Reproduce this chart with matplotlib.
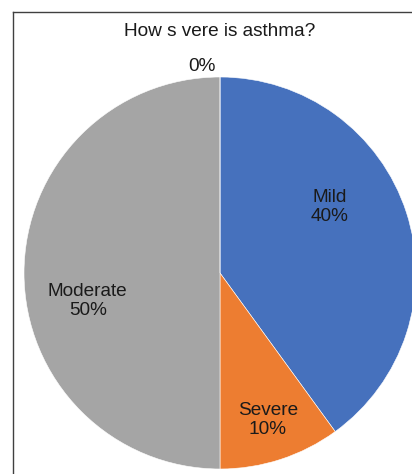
import numpy as np
import matplotlib
matplotlib.use("Agg")
import matplotlib.pyplot as plt
from matplotlib.lines import Line2D

# data
categories = ["Mild", "Severe", "Moderate", ""]
values = [40, 10, 50, 0]
colors = ["#4671BD", "#ED7D31", "#A5A5A5", "#FFC000"]
title = "How s vere is asthma?"

# label placement (Excel-style), per slice
label_r = [0.65, 0.79, 0.69, 1.06]
label_shift = [13, 0, 12, 5]

plt.rcParams['font.family'] = ['Liberation Sans', 'DejaVu Sans']

W, H = 412, 474
fig = plt.figure(figsize=(W / 100, H / 100), dpi=100)

# axes box in pixels: pie centre (220, 273), radius 196
cx, cy, r = 220, 273, 196
ax = fig.add_axes([(cx - r) / W, (H - cy - r) / H, 2 * r / W, 2 * r / H])
wedges, _ = ax.pie(values, colors=colors, startangle=90, counterclock=False,
                   radius=1, wedgeprops=dict(edgecolor="white", linewidth=0.4))
ax.set_xlim(-1, 1)
ax.set_ylim(-1, 1)
ax.set_aspect("equal")
ax.axis("off")
for w in wedges:
    w.set_clip_on(False)

total = sum(values)
for w, name, v, rr, sh in zip(wedges, categories, values, label_r, label_shift):
    mid = np.deg2rad((w.theta1 + w.theta2) / 2 + sh)
    pct = f"{v / total * 100:.0f}%"
    txt = f"{name}\n{pct}" if name else pct
    ax.text(rr * np.cos(mid), rr * np.sin(mid), txt, ha="center", va="center",
            fontsize=13.7, color="#1a1a1a", linespacing=1.17)

fig.text(cx / W, 1 - 32 / H, title, ha="center", va="center",
         fontsize=13.7, color="#1a1a1a")

# chart border (top and left edges visible)
fig.add_artist(Line2D([13 / W, 1], [1 - 12 / H, 1 - 12 / H],
                      transform=fig.transFigure, color="#404040", lw=1))
fig.add_artist(Line2D([13 / W, 13 / W], [0, 1 - 12 / H],
                      transform=fig.transFigure, color="#404040", lw=1))

fig.savefig("out.png", dpi=100)
